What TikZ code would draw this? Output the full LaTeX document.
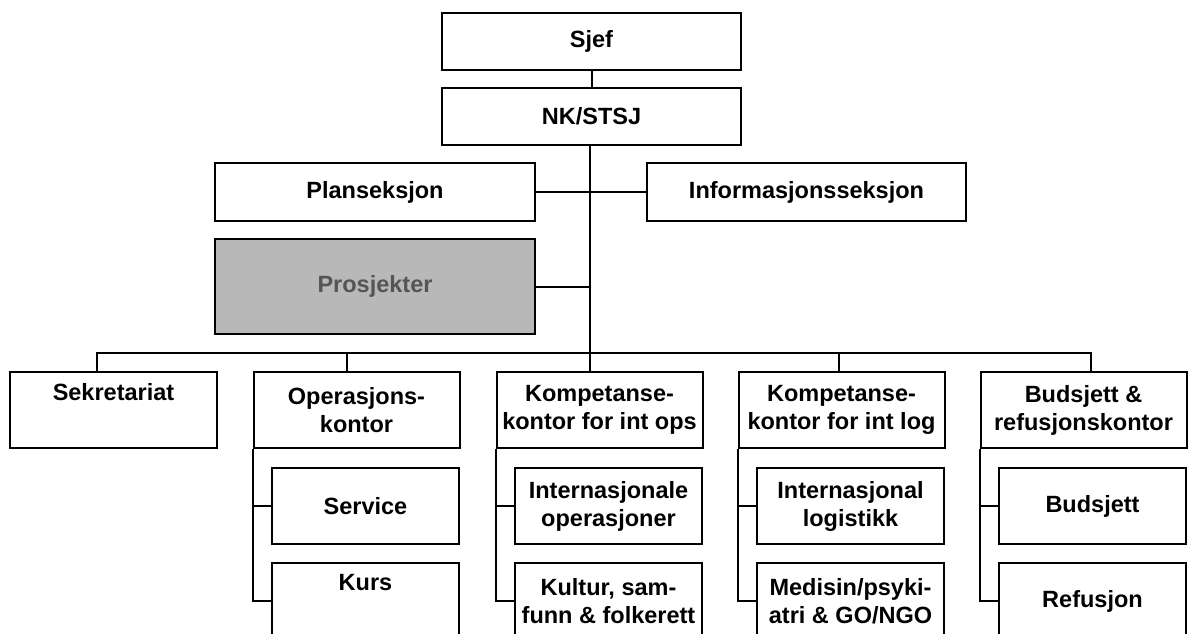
\documentclass[tikz,border=0pt]{standalone}
\usepackage{fontspec}
\setmainfont{Liberation Sans}
\definecolor{projgray}{HTML}{B8B8B8}
\definecolor{projtext}{HTML}{555555}
\begin{document}
\begin{tikzpicture}[x=1pt,y=-1pt,
  line width=2pt,
  orgbox/.style={draw, rectangle, inner sep=0pt, align=center,
    font=\bfseries\fontsize{23.5}{28}\selectfont},
  topbox/.style={orgbox, minimum width=299pt, minimum height=57pt},
  midbox/.style={orgbox, minimum width=320pt, minimum height=58pt},
  projbox/.style={midbox, minimum height=95pt, fill=projgray, text=projtext},
  unitbox/.style={orgbox, minimum width=206pt, minimum height=76pt},
  subbox/.style={orgbox, minimum width=187pt, minimum height=76pt}
]
\fill[white] (0,0) rectangle (1195,634);
\useasboundingbox (0,0) rectangle (1195,634);
\clip (0,0) rectangle (1195,634);

% top of the organisation
\node[topbox] (sjef) at (591.5,41.5) {Sjef};
\node[topbox] (nk) at (591.5,116.5) {NK/STSJ};

% staff sections
\node[midbox] (plan) at (375,192) {Planseksjon};
\node[midbox, minimum width=319pt] (info) at (806.5,192) {Informasjonsseksjon};
\node[projbox] (proj) at (375,286.5) {Prosjekter};

% offices
\node[unitbox, minimum width=207pt] (sekr) at (113.5,410) {Sekretariat\\\strut};
\node[unitbox] (ops) at (356.5,410) {Operasjons-\\kontor};
\node[unitbox] (kops) at (599.5,410) {Kompetanse-\\kontor for int ops};
\node[unitbox] (klog) at (841.5,410) {Kompetanse-\\kontor for int log};
\node[unitbox] (bud) at (1083.5,410) {Budsjett \&\\refusjonskontor};

% sub-units
\node[subbox] (service) at (365.5,506) {Service};
\node[subbox] (kurs) at (365.5,601) {Kurs\\\strut};
\node[subbox] (intops) at (608.5,506) {Internasjonale\\operasjoner};
\node[subbox] (kultur) at (608.5,601) {Kultur, sam-\\funn \& folkerett};
\node[subbox] (intlog) at (850.5,506) {Internasjonal\\logistikk};
\node[subbox] (medisin) at (850.5,601) {Medisin/psyki-\\atri \& GO/NGO};
\node[subbox] (budsjett) at (1092.5,506) {Budsjett};
\node[subbox] (refusjon) at (1092.5,601) {Refusjon};

% main line
\coordinate (bus) at (590,353);
\draw (sjef) -- (nk);
\draw (nk.south -| bus) -- (bus) -- (bus |- kops.north);
\draw (plan) -- (info);
\draw (proj.east) -- (proj.east -| bus);

% horizontal bus to the offices
\draw ([xshift=-16.5pt]sekr.north) |- (bus) -| ([xshift=7.5pt]bud.north);
\draw ([xshift=-9.5pt]ops.north) -- ([xshift=-9.5pt]ops.north |- bus);
\draw ([xshift=-2.5pt]klog.north) -- ([xshift=-2.5pt]klog.north |- bus);

% brackets to the sub-units
\draw (ops.south west) |- (kurs.west);
\draw (ops.south west |- service.west) -- (service.west);
\draw (kops.south west) |- (kultur.west);
\draw (kops.south west |- intops.west) -- (intops.west);
\draw (klog.south west) |- (medisin.west);
\draw (klog.south west |- intlog.west) -- (intlog.west);
\draw (bud.south west) |- (refusjon.west);
\draw (bud.south west |- budsjett.west) -- (budsjett.west);
\end{tikzpicture}
\end{document}
